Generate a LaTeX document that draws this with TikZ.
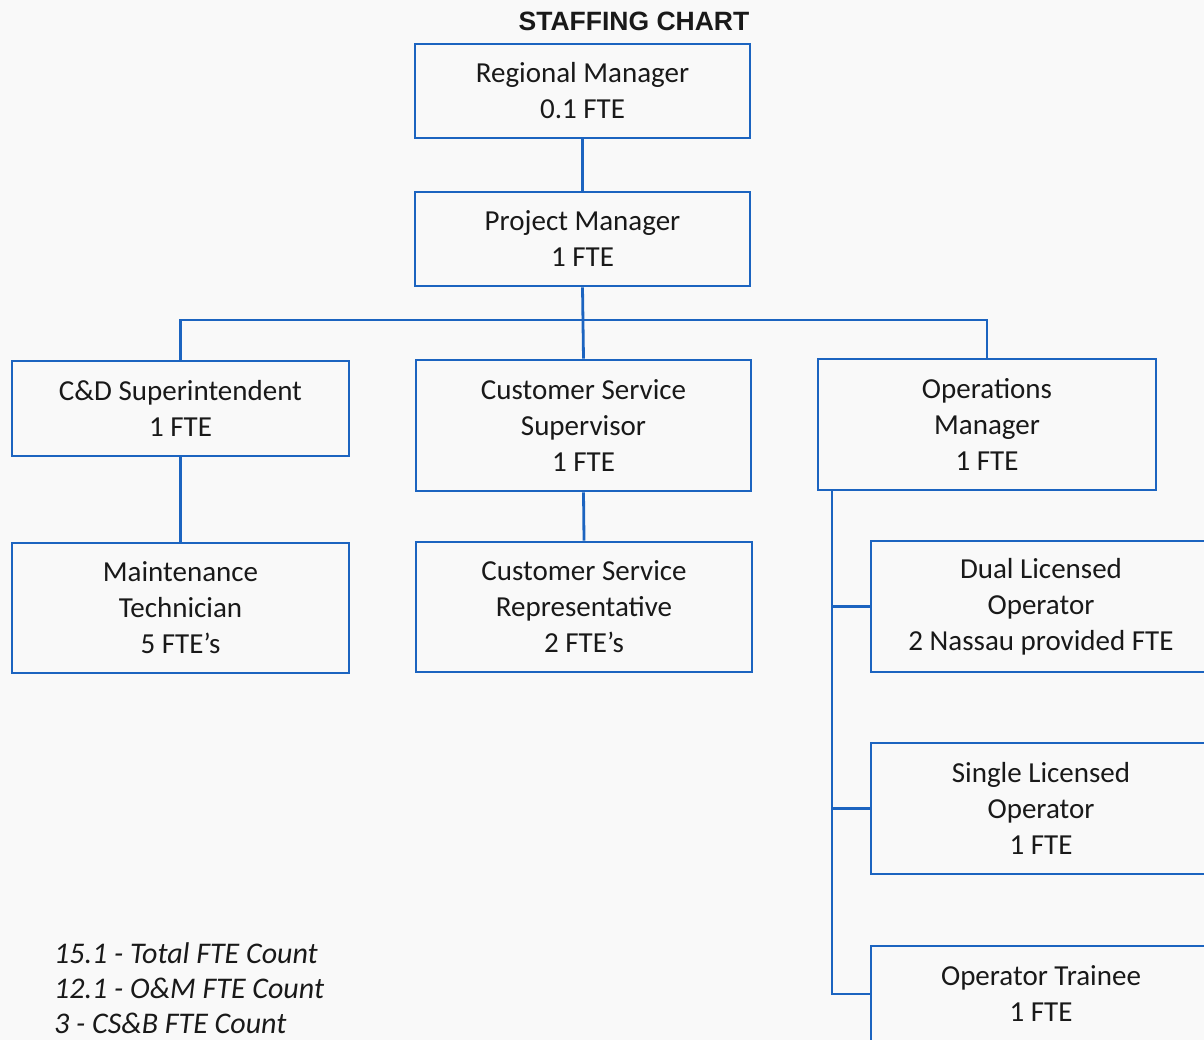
\documentclass[tikz,border=0pt]{standalone}
\usepackage{fontspec}
\setmainfont{Carlito}
\newfontfamily\titlefont{Liberation Sans}
\definecolor{boxblue}{RGB}{28,100,192}
\definecolor{inkgray}{RGB}{25,25,25}
\definecolor{paper}{RGB}{249,249,249}
\begin{document}
\begin{tikzpicture}[x=1pt,y=-1pt,
  orgbox/.style={draw=boxblue,line width=2.8pt,align=center,inner sep=0pt,
    text=inkgray,font=\fontsize{29}{36}\selectfont},
  link/.style={draw=boxblue,line width=2.8pt}]
\fill[paper] (0,0) rectangle (1204,1040);
\useasboundingbox (0,0) rectangle (1204,1040);
\node[text=inkgray,font=\titlefont\bfseries\fontsize{26.5}{30}\selectfont] (title) at (634,21) {STAFFING CHART};
\node[orgbox,minimum width=335pt,minimum height=94pt] (rm) at (582.5,91) {Regional Manager\\0.1 FTE};
\node[orgbox,minimum width=335pt,minimum height=94pt] (pm) at (582.5,239) {Project Manager\\1 FTE};
\node[orgbox,minimum width=337pt,minimum height=95pt] (cd) at (180.5,408.5) {C\&D Superintendent\\1 FTE};
\node[orgbox,minimum width=335pt,minimum height=131pt] (css) at (583.5,425.5) {Customer Service\\Supervisor\\1 FTE};
\node[orgbox,minimum width=338pt,minimum height=131pt] (om) at (987,424.5) {Operations\\Manager\\1 FTE};
\node[orgbox,minimum width=337pt,minimum height=130pt] (mt) at (180.5,608) {Maintenance\\Technician\\5 FTE’s};
\node[orgbox,minimum width=336pt,minimum height=130pt] (csr) at (584,607) {Customer Service\\Representative\\2 FTE’s};
\node[orgbox,minimum width=340pt,minimum height=131pt] (dl) at (1041,606.5) {Dual Licensed\\Operator\\2 Nassau provided FTE};
\node[orgbox,minimum width=340pt,minimum height=131pt] (sl) at (1041,808.5) {Single Licensed\\Operator\\1 FTE};
\node[orgbox,minimum width=340pt,minimum height=96pt] (ot) at (1041,994) {Operator Trainee\\1 FTE};
\node[anchor=north west,align=left,inner sep=0pt,text=inkgray,
  font=\itshape\fontsize{30}{35}\selectfont] (totals) at (54,942)
  {15.1 - Total FTE Count\\12.1 - O\&M FTE Count\\3 - CS\&B FTE Count};
\coordinate (bus) at (0,320);
\coordinate (tk) at (832,490);
\draw[link] (rm.south) -- (pm.north);
\draw[link] (pm.south) -- (css.north);
\draw[link] (cd.north) |- (om.north |- bus) -- (om.north);
\draw[link] (cd.south) -- (mt.north);
\draw[link] (css.south) -- (csr.north);
\draw[link] (tk) |- (ot.west);
\draw[link] (tk |- dl.west) -- (dl.west);
\draw[link] (tk |- sl.west) -- (sl.west);
\end{tikzpicture}
\end{document}
